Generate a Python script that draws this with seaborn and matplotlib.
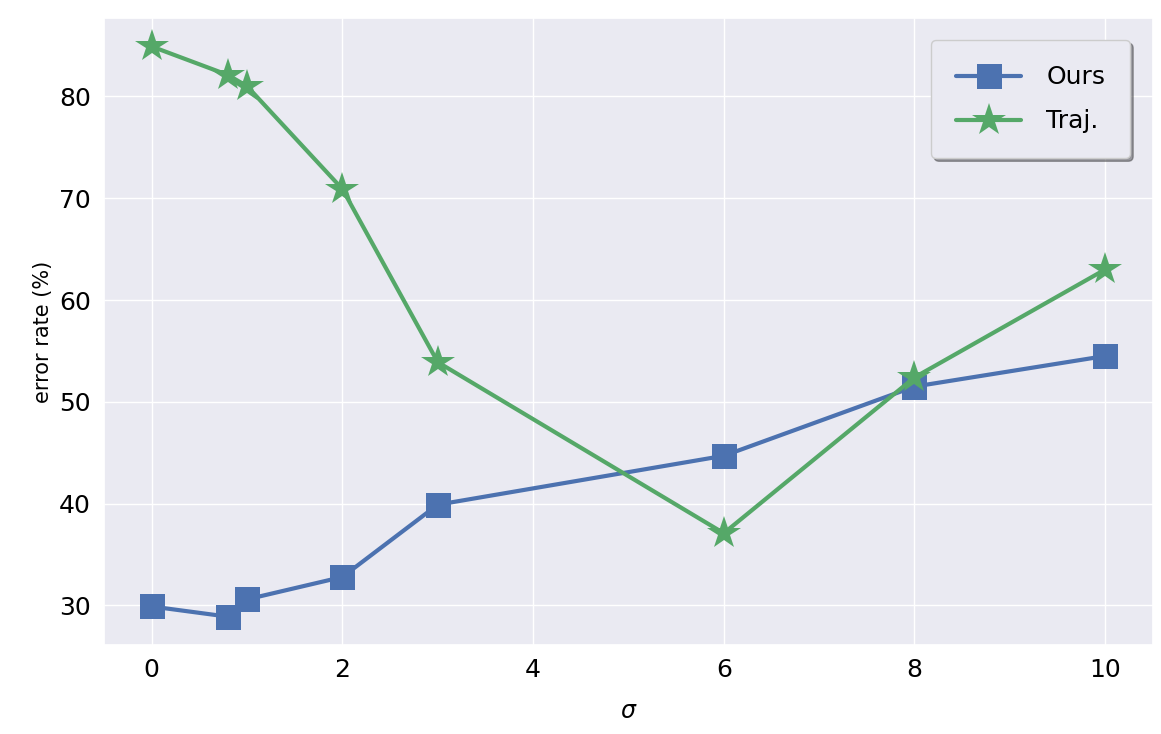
import matplotlib
matplotlib.use("Agg")
import matplotlib.pyplot as plt
import seaborn as sns
import pandas as pd

sigma = [0, 0.8, 1, 2, 3, 6, 8, 10]
ours = [29.9, 28.9, 30.6, 32.8, 39.9, 44.7, 51.5, 54.5]
traj = [84.9, 82.1, 81.0, 70.9, 53.9, 37.1, 52.4, 63.0]
series_names = ["Ours", "Traj."]

sns.set_theme(style="darkgrid")
plt.rcParams['font.family'] = ['DejaVu Sans']

fig = plt.figure(figsize=(11.61, 7.34), dpi=100)
ax = fig.add_axes([0.0896, 0.121, 0.9034, 0.8545])

df = pd.DataFrame({"sigma": sigma, "Ours": ours, "Traj.": traj})
pal = sns.color_palette("deep")
sns.lineplot(data=df, x="sigma", y="Ours", ax=ax, color=pal[0], marker="s",
             markersize=18, linewidth=3, label=series_names[0], markeredgewidth=0)
sns.lineplot(data=df, x="sigma", y="Traj.", ax=ax, color=pal[2], marker="*",
             markersize=25, linewidth=3, label=series_names[1], markeredgewidth=0)

ax.set_xticks([0, 2, 4, 6, 8, 10])
ax.set_yticks([30, 40, 50, 60, 70, 80])
ax.tick_params(axis="both", labelsize=18, colors="black")
ax.set_xlabel(r"$\sigma$", fontsize=17, labelpad=12, color="black")
ax.set_ylabel("error rate (%)", fontsize=15, color="black")
leg = ax.legend(loc="upper right", fontsize=18, shadow=True, frameon=True,
                borderpad=1.0, handlelength=2.6, labelspacing=0.8,
                handletextpad=1.0, borderaxespad=0.9)
for t in leg.get_texts():
    t.set_color("black")
leg.get_frame().set_facecolor("#EAEAF2")
leg.get_frame().set_edgecolor("#CCCCCC")
leg.get_frame().set_alpha(1)

fig.savefig("out.png", dpi=100)
